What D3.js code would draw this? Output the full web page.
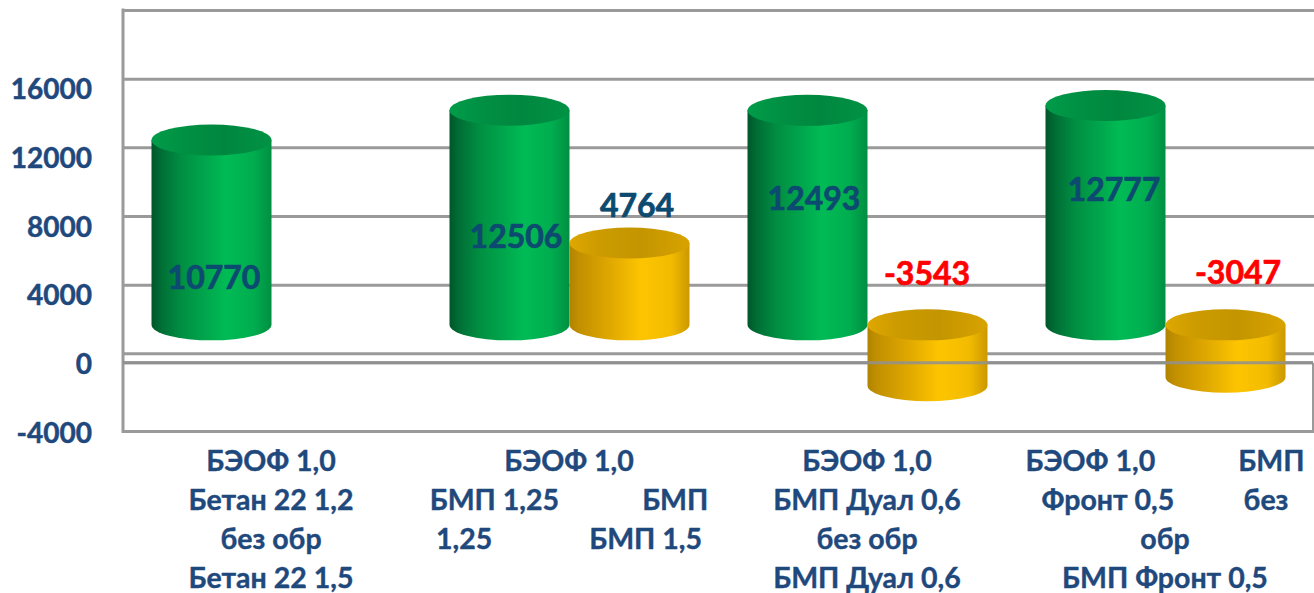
<!DOCTYPE html>
<html><head><meta charset="utf-8">
<script src="https://cdn.jsdelivr.net/npm/d3@7/dist/d3.min.js"></script>
<style>
html,body{margin:0;padding:0;background:#fff}
svg{display:block}
text{font-family:Lato,"Open Sans",sans-serif;font-weight:700;white-space:pre;paint-order:stroke;stroke-linejoin:round}
.domain{display:none}
</style></head><body>
<svg id="c" width="1314" height="593"></svg>
<script>
const categories=["A","B","C","D"];
const categoryLines=[
 ["БЭОФ 1,0","Бетан 22 1,2","без обр","Бетан 22 1,5"],
 ["БЭОФ 1,0","БМП 1,25            БМП","1,25              БМП 1,5"],
 ["БЭОФ 1,0","БМП Дуал 0,6","без обр","БМП Дуал 0,6"],
 ["БЭОФ 1,0            БМП","Фронт 0,5          без","обр","БМП Фронт 0,5"]
];
const seriesA=[10770,12506,12493,12777];
const seriesB=[null,4764,-3543,-3047];
const wallTicks=[0,4000,8000,12000,16000,20000];
const labelTicks=[-4000,0,4000,8000,12000,16000];

// layout (not data)
const labelBaseA=[289,248,210,201], labelBaseB=[null,217,285,284];
const labelDxA=[2,6,6,8], labelDxB=[null,7,-1,12];
const frontDy=9.5, barDy=-28.5, ry=15.5;

const svg=d3.select("#c");
const defs=svg.append("defs");
function grad(id,stops){
  const g=defs.append("linearGradient").attr("id",id);
  stops.forEach(([o,c])=>g.append("stop").attr("offset",o).attr("stop-color",c));
}
grad("gGreen",[[0,"#00562a"],[.08,"#006e35"],[.25,"#008f42"],[.45,"#00a64c"],[.62,"#00bb55"],[.85,"#00ad4f"],[1,"#008f42"]]);
grad("gGold",[[0,"#b08400"],[.08,"#c29000"],[.3,"#dba400"],[.6,"#fdc500"],[.85,"#f2bb00"],[1,"#cb9800"]]);
grad("gGreenTop",[[0,"#009c49"],[.3,"#008f43"],[.6,"#00873f"],[1,"#009245"]]);
grad("gGoldTop",[[0,"#dfa800"],[.25,"#cc9b00"],[.6,"#c49500"],[1,"#d8a300"]]);

const x0=d3.scaleBand().domain(categories).range([123,1315]);
const x1=d3.scaleBand().domain(["a","b"]).range([29,269]);
const y=d3.scaleLinear().domain([-4000,20000]).range([422,10]);
const left=123,right=1313;

// wall gridlines
svg.append("g").attr("transform",`translate(${left},0)`)
 .call(d3.axisLeft(y).tickValues(wallTicks).tickSize(-(right-left+1)).tickFormat(""))
 .call(g=>g.selectAll("line").attr("stroke","#9a9a9a").attr("stroke-width",3));
// frame
const frame=svg.append("g").attr("stroke","#9a9a9a").attr("stroke-width",3).attr("fill","none");
frame.append("line").attr("x1",left).attr("x2",left).attr("y1",y(20000)-1.5).attr("y2",y(-4000)+frontDy+1.5);
frame.append("line").attr("x1",right).attr("x2",right).attr("y1",y(0)+frontDy).attr("y2",y(-4000)+frontDy+1.5).attr("stroke-width",2);
frame.append("line").attr("x1",left).attr("x2",right).attr("y1",y(-4000)+frontDy).attr("y2",y(-4000)+frontDy);
function frontZero(op){
  svg.append("line").attr("x1",left).attr("x2",right).attr("y1",y(0)+frontDy).attr("y2",y(0)+frontDy)
   .attr("stroke","#909090").attr("stroke-width",3).attr("stroke-opacity",op);
}

function cyl(cx,rx,v,fillSide,fillTop){
  const y0=y(0)+barDy, yv=y(v)+barDy;
  const top=Math.min(y0,yv), bot=Math.max(y0,yv);
  const g=svg.append("g");
  g.append("path").attr("fill",`url(#${fillSide})`)
   .attr("d",`M${cx-rx},${top}L${cx-rx},${bot}A${rx},${ry} 0 0 0 ${cx+rx},${bot}L${cx+rx},${top}Z`);
  g.append("ellipse").attr("cx",cx).attr("cy",top).attr("rx",rx).attr("ry",ry).attr("fill",`url(#${fillTop})`);
  return g;
}
frontZero(1);
categories.forEach((c,i)=>{
  cyl(x0(c)+x1("a")+x1.bandwidth()/2-0.5,x1.bandwidth()/2,seriesA[i],"gGreen","gGreenTop");
});
categories.forEach((c,i)=>{
  const v=seriesB[i]; if(v==null) return;
  cyl(x0(c)+x1("b")+x1.bandwidth()/2-0.5,x1.bandwidth()/2,v,"gGold","gGoldTop");
});
frontZero(.85);

// y tick labels
svg.append("g").attr("transform",`translate(92,${frontDy+10.5})`)
 .call(d3.axisLeft(y).tickValues(labelTicks).tickSize(0).tickPadding(0).tickFormat(d=>String(d)))
 .call(g=>g.selectAll("text").attr("dy",0).attr("x",0).attr("y",0).attr("text-anchor","end")
   .attr("fill","#1f497d").attr("stroke","#1f497d").attr("stroke-width",.5).style("font-size","28px"));

// value labels
function valueLabel(xp,yp,v){
  const col=v<0?"#ff0000":"#0c4a70";
  svg.append("text").attr("x",xp).attr("y",yp).attr("text-anchor","middle")
   .attr("fill",col).attr("stroke",col).attr("stroke-width",.7).style("font-size","32px").text(v);
}
categories.forEach((c,i)=>{
  valueLabel(x0(c)+x1("a")+x1.bandwidth()/2+labelDxA[i],labelBaseA[i],seriesA[i]);
  if(seriesB[i]!=null) valueLabel(x0(c)+x1("b")+x1.bandwidth()/2+labelDxB[i],labelBaseB[i],seriesB[i]);
});

// category labels
const xLab=svg.append("g").attr("transform","translate(0,471)");
categories.forEach((c,i)=>{
  const cx=x0(c)+x0.bandwidth()/2;
  categoryLines[i].forEach((t,j)=>{
    xLab.append("text").attr("x",cx-1).attr("y",j*39).attr("text-anchor","middle")
      .attr("fill","#1f497d").attr("stroke","#1f497d").attr("stroke-width",.4).style("font-size","28.5px").text(t);
  });
});
</script></body></html>
